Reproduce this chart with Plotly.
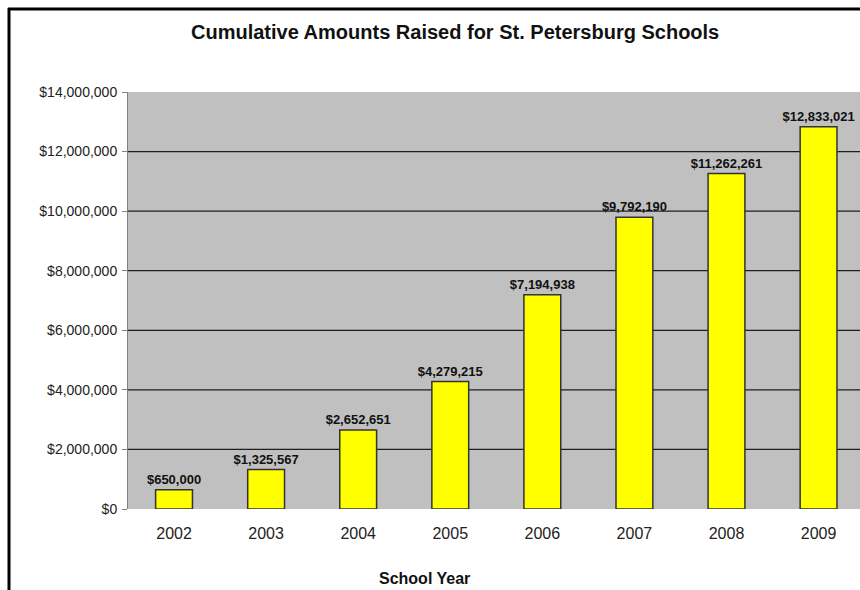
import plotly.graph_objects as go

years = ["2002", "2003", "2004", "2005", "2006", "2007", "2008", "2009"]
amounts = [650000, 1325567, 2652651, 4279215, 7194938, 9792190, 11262261, 12833021]
y_ticks = [0, 2000000, 4000000, 6000000, 8000000, 10000000, 12000000, 14000000]
y_tick_labels = ["$0", "$2,000,000", "$4,000,000", "$6,000,000", "$8,000,000",
                 "$10,000,000", "$12,000,000", "$14,000,000"]

W, H = 860, 590
ML, MR, MT, MB = 128, 0, 92, 81
plot_w = W - ML - MR
plot_h = H - MT - MB

labels = ["${:,}".format(v) for v in amounts]

fig = go.Figure(go.Bar(
    x=years,
    y=amounts,
    width=0.4,
    marker=dict(color="#FFFF00", line=dict(color="#333333", width=1.5)),
    text=labels,
    textposition="outside",
    constraintext="none",
    textfont=dict(family="Liberation Sans, Arial", size=13, color="#111111"),
    texttemplate="<b>%{text}</b>",
    cliponaxis=False,
))

# horizontal grid lines (the top edge is left as the plot boundary)
shapes = []
for v in y_ticks[1:-1]:
    shapes.append(dict(type="line", xref="paper", yref="y", x0=0, x1=1, y0=v, y1=v,
                       line=dict(color="#1e1e1e", width=1.2), layer="below"))

# outer chart frame (left and top edges visible)
px_to_x = lambda p: (p - ML) / plot_w
px_to_y = lambda p: (H - MB - p) / plot_h
shapes.append(dict(type="line", xref="paper", yref="paper",
                   x0=px_to_x(9), x1=px_to_x(9), y0=px_to_y(600), y1=px_to_y(8),
                   line=dict(color="black", width=3)))
shapes.append(dict(type="line", xref="paper", yref="paper",
                   x0=px_to_x(8), x1=px_to_x(870), y0=px_to_y(9), y1=px_to_y(9),
                   line=dict(color="black", width=3)))

fig.update_layout(
    width=W, height=H,
    margin=dict(l=ML, r=MR, t=MT, b=MB, pad=0),
    paper_bgcolor="white",
    plot_bgcolor="#C0C0C0",
    showlegend=False,
    shapes=shapes,
    font=dict(family="Liberation Sans, Arial", color="#222222"),
    annotations=[
        dict(text="<b>Cumulative Amounts Raised for St. Petersburg Schools</b>",
             xref="paper", yref="paper", x=px_to_x(455), y=px_to_y(32),
             xanchor="center", yanchor="middle", showarrow=False,
             font=dict(size=20, color="#111111")),
        dict(text="<b>School Year</b>",
             xref="paper", yref="paper", x=px_to_x(424), y=px_to_y(578),
             xanchor="center", yanchor="middle", showarrow=False,
             font=dict(size=16, color="#111111")),
    ],
)

fig.update_xaxes(
    range=[-0.5, 7.45],
    showgrid=False, zeroline=False, showline=False, ticks="",
    tickfont=dict(size=16, color="#222222"),
    ticklabelstandoff=13,
)
fig.update_yaxes(
    range=[0, 14000000],
    tickvals=y_ticks, ticktext=y_tick_labels,
    showgrid=False, zeroline=False,
    showline=True, linecolor="#808080", linewidth=1,
    ticks="outside", ticklen=5, tickcolor="#808080",
    tickfont=dict(size=14, color="#222222"),
    ticklabelstandoff=2,
)

fig.write_html("out.html")
